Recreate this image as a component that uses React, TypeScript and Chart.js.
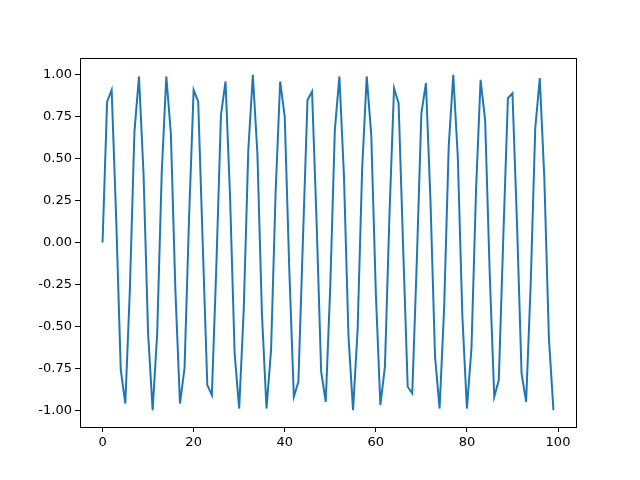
import React, { useEffect, useRef } from "react";
import { Chart, registerables } from "chart.js";

Chart.register(...registerables);

const xValues: number[] = Array.from({ length: 100 }, (_, i) => i);
const yValues: number[] = [
  0.0, 0.84, 0.91, 0.14, -0.76, -0.96, -0.28, 0.66, 0.99, 0.41,
  -0.54, -1.0, -0.54, 0.42, 0.99, 0.65, -0.29, -0.96, -0.75, 0.15,
  0.91, 0.84, -0.01, -0.85, -0.91, -0.13, 0.76, 0.96, 0.27, -0.66,
  -0.99, -0.4, 0.55, 1.0, 0.53, -0.43, -0.99, -0.64, 0.3, 0.96,
  0.75, -0.16, -0.92, -0.83, 0.02, 0.85, 0.9, 0.12, -0.77, -0.95,
  -0.26, 0.67, 0.99, 0.4, -0.56, -1.0, -0.52, 0.44, 0.99, 0.64,
  -0.3, -0.97, -0.74, 0.17, 0.92, 0.83, -0.03, -0.86, -0.9, -0.11,
  0.77, 0.95, 0.25, -0.68, -0.99, -0.39, 0.57, 1.0, 0.51, -0.44,
  -0.99, -0.63, 0.31, 0.97, 0.73, -0.18, -0.92, -0.82, 0.04, 0.86,
  0.89, 0.11, -0.78, -0.95, -0.25, 0.68, 0.98, 0.38, -0.57, -1.0,
];
const xTicks: number[] = [0, 20, 40, 60, 80, 100];
const yTicks: number[] = [-1.0, -0.75, -0.5, -0.25, 0.0, 0.25, 0.5, 0.75, 1.0];

const framePlugin = {
  id: "frame",
  afterDraw(chart: any) {
    const { ctx, chartArea } = chart;
    ctx.save();
    ctx.strokeStyle = "#000";
    ctx.lineWidth = 1;
    ctx.strokeRect(
      Math.round(chartArea.left) + 0.5,
      Math.round(chartArea.top) + 0.5,
      Math.round(chartArea.right - chartArea.left),
      Math.round(chartArea.bottom - chartArea.top)
    );
    ctx.restore();
  },
};

export default function App() {
  const ref = useRef<HTMLCanvasElement>(null);
  useEffect(() => {
    const font = { family: "DejaVu Sans", size: 13 };
    const chart = new Chart(ref.current!, {
      type: "line",
      data: {
        datasets: [
          {
            data: xValues.map((x, i) => ({ x, y: yValues[i] })),
            borderColor: "#1f77b4",
            borderWidth: 2,
            pointRadius: 0,
            tension: 0,
            fill: false,
          },
        ],
      },
      options: {
        animation: false,
        responsive: false,
        layout: { padding: { left: 0, right: 64, top: 58, bottom: 0 } },
        plugins: { legend: { display: false }, tooltip: { enabled: false } },
        scales: {
          x: {
            type: "linear",
            min: -4.95,
            max: 103.95,
            afterBuildTicks: (s: any) => {
              s.ticks = xTicks.map((v) => ({ value: v }));
            },
            afterFit: (s: any) => {
              s.height = 53;
            },
            grid: { drawOnChartArea: false, drawTicks: true, tickLength: 5, color: "#000" },
            border: { display: false },
            ticks: { color: "#000", font, padding: 3, maxRotation: 0 },
          },
          y: {
            type: "linear",
            min: -1.1,
            max: 1.1,
            afterBuildTicks: (s: any) => {
              s.ticks = yTicks.map((v) => ({ value: v }));
            },
            afterFit: (s: any) => {
              s.width = 80;
            },
            grid: { drawOnChartArea: false, drawTicks: true, tickLength: 5, color: "#000" },
            border: { display: false },
            ticks: {
              color: "#000",
              font,
              padding: 3,
              callback: (v: any) => Number(v).toFixed(2),
            },
          },
        },
      },
      plugins: [framePlugin],
    });
    return () => chart.destroy();
  }, []);
  return (
    <div style={{ position: "absolute", left: 0, top: 0, width: 640, height: 480, background: "#fff" }}>
      <canvas ref={ref} width={640} height={480} />
    </div>
  );
}
